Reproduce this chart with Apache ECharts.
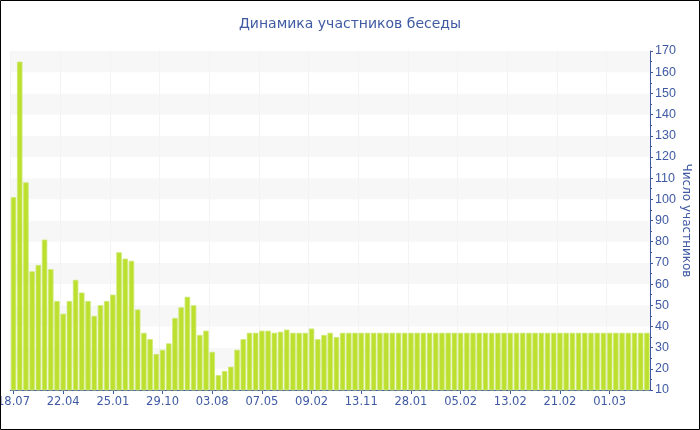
<!DOCTYPE html>
<html>
<head>
<meta charset="utf-8">
<script src="https://cdn.jsdelivr.net/npm/echarts@6/dist/echarts.min.js"></script>
<style>
html,body{margin:0;padding:0;background:#fff;}
#chart{width:700px;height:430px;}
</style>
</head>
<body>
<div id="chart"></div>
<script>
var titleText = 'Динамика участников беседы';
var yAxisName = 'Число участников';
var tickLabels = ['18.07','22.04','25.01','29.10','03.08','07.05','09.02','13.11','28.01','05.02','13.02','21.02','01.03'];
var labelEvery = 8;
var values = [
  101,165,108,66,69,81,67,52,46,52,62,56,52,45,50,52,55,75,72,71,
  48,37,34,27,29,32,44,49,54,50,36,38,28,17,19,21,29,34,37,37,
  38,38,37,37.5,38.5,37,37,37,39,34,36,37,35,
  37,37,37,37,37,37,37,37,37,37,37,37,37,37,37,37,37,37,37,37,
  37,37,37,37,37,37,37,37,37,37,37,37,37,37,37,37,37,37,37,37,
  37,37,37,37,37,37,37,37,37,37
];
var yMin = 10, yMax = 170, yStep = 10;

var categories = values.map(function (v, i) {
  return (i % labelEvery === 0 && tickLabels[i / labelEvery]) ? tickLabels[i / labelEvery] : '';
});

var blue = '#3f5aa3';
var chart = echarts.init(document.getElementById('chart'), null, {renderer: 'canvas'});
chart.setOption({
  animation: false,
  backgroundColor: '#fff',
  title: {
    text: titleText,
    left: 'center',
    top: 12,
    textStyle: {color: blue, fontSize: 14, fontWeight: 'normal', fontFamily: 'DejaVu Sans'}
  },
  grid: {left: 10.4, right: 50, top: 51, bottom: 40, containLabel: false, outerBoundsMode: 'none'},
  xAxis: {
    type: 'category',
    data: categories,
    boundaryGap: true,
    axisLine: {lineStyle: {color: blue, width: 1}},
    axisTick: {show: true, alignWithLabel: true, interval: labelEvery - 1, length: 4, lineStyle: {color: blue}},
    axisLabel: {interval: labelEvery - 1, color: blue, fontSize: 11.5, fontFamily: 'DejaVu Sans', margin: 6, hideOverlap: false},
    splitLine: {show: true, interval: labelEvery - 1, lineStyle: {color: '#f3f3f3', width: 1}}
  },
  yAxis: {
    type: 'value',
    position: 'right',
    min: yMin, max: yMax, interval: yStep,
    name: yAxisName,
    nameLocation: 'middle',
    nameRotate: -90,
    nameGap: 30,
    nameMoveOverlap: false,
    nameTextStyle: {color: blue, fontSize: 12, fontFamily: 'DejaVu Sans'},
    axisLine: {show: true, lineStyle: {color: blue, width: 1}},
    axisTick: {show: true, length: 3, lineStyle: {color: blue}},
    minorTick: {show: true, splitNumber: 2, length: 2, lineStyle: {color: blue}},
    axisLabel: {color: blue, fontSize: 12.5, fontFamily: 'Liberation Sans', margin: 5},
    splitLine: {show: false},
    splitArea: {show: true, areaStyle: {color: ['#ffffff', '#f7f7f7']}}
  },
  series: [{
    type: 'bar',
    data: values,
    barCategoryGap: '12%',
    itemStyle: {color: '#bde02f', borderColor: '#cde873', borderWidth: 0.8}
  }],
  graphic: [{
    type: 'rect',
    silent: true,
    z: 100,
    shape: {x: 0.5, y: 0.5, width: 699, height: 429},
    style: {fill: 'none', stroke: '#000', lineWidth: 1}
  }]
});
</script>
</body>
</html>
